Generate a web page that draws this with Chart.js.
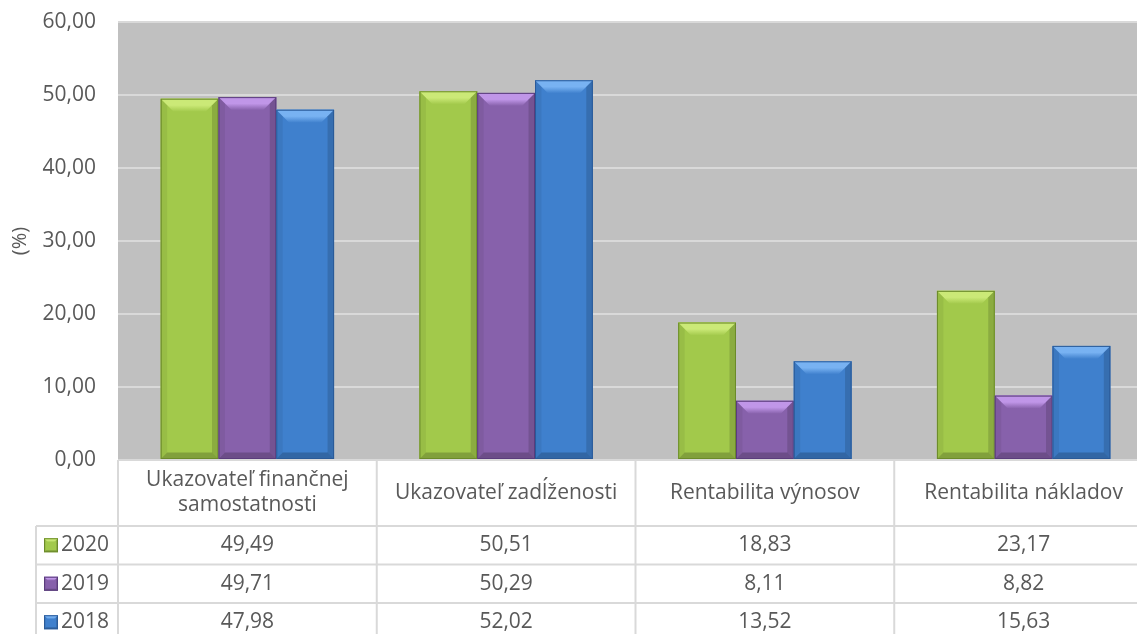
<!DOCTYPE html>
<html>
<head>
<meta charset="utf-8">
<script src="https://cdn.jsdelivr.net/npm/chart.js@4.4.1/dist/chart.umd.min.js"></script>
<style>
html, body { margin: 0; padding: 0; background: #fff; overflow: hidden; }
#wrap { width: 1137px; height: 634px; overflow: hidden; }
</style>
</head>
<body>
<div id="wrap"><canvas id="chart" width="1153" height="634"></canvas></div>
<script>
// data
const categories = [['Ukazovateľ finančnej', 'samostatnosti'], 'Ukazovateľ zadĺženosti', 'Rentabilita výnosov', 'Rentabilita nákladov'];
const years = ['2020', '2019', '2018'];
const values2020 = [49.49, 50.51, 18.83, 23.17];
const values2019 = [49.71, 50.29, 8.11, 8.82];
const values2018 = [47.98, 52.02, 13.52, 15.63];
const yMin = 0, yMax = 60, yStep = 10;

const FONT = '"Open Sans", sans-serif';
const TXT = '#595959';
const LINE = '#d9d9d9';

// body / light bevel / dark edge
const palette = [
    { body: '#a2c94b', light: '#cbe977', dark: '#6b8a2a' },
    { body: '#8761ab', light: '#c096e8', dark: '#5a3c7c' },
    { body: '#3f80cd', light: '#78b2f2', dark: '#2a5a98' }
];

const fmt = v => v.toFixed(2).replace('.', ',');

function drawBevel(ctx, l, t, r, b, col, bs) {
    bs = Math.min(bs, (b - t) / 2, (r - l) / 2);
    ctx.save();
    ctx.fillStyle = col.body;
    ctx.fillRect(l, t, r - l, b - t);
    // top bevel
    let g = ctx.createLinearGradient(0, t, 0, t + bs);
    g.addColorStop(0, col.light);
    g.addColorStop(0.5, col.light);
    g.addColorStop(1, col.body);
    ctx.fillStyle = g;
    ctx.beginPath();
    ctx.moveTo(l, t); ctx.lineTo(r, t); ctx.lineTo(r - bs, t + bs); ctx.lineTo(l + bs, t + bs);
    ctx.closePath(); ctx.fill();
    // right edge
    ctx.fillStyle = 'rgba(0,0,0,0.14)';
    ctx.beginPath();
    ctx.moveTo(r, t); ctx.lineTo(r, b); ctx.lineTo(r - bs / 2, b - bs / 2); ctx.lineTo(r - bs / 2, t + bs / 2);
    ctx.closePath(); ctx.fill();
    // left edge
    ctx.fillStyle = 'rgba(0,0,0,0.06)';
    ctx.beginPath();
    ctx.moveTo(l, t); ctx.lineTo(l, b); ctx.lineTo(l + bs / 2, b - bs / 2); ctx.lineTo(l + bs / 2, t + bs / 2);
    ctx.closePath(); ctx.fill();
    // bottom edge
    ctx.fillStyle = 'rgba(0,0,0,0.2)';
    ctx.beginPath();
    ctx.moveTo(l, b); ctx.lineTo(r, b); ctx.lineTo(r - bs / 2, b - bs / 2); ctx.lineTo(l + bs / 2, b - bs / 2);
    ctx.closePath(); ctx.fill();
    ctx.strokeStyle = col.dark;
    ctx.lineWidth = 1;
    ctx.strokeRect(l + 0.5, t + 0.5, r - l - 1, b - t - 1);
    ctx.restore();
}

// gray plot background
const plotBg = {
    id: 'plotBg',
    beforeDraw(chart) {
        const { ctx, chartArea: a } = chart;
        ctx.save();
        ctx.fillStyle = '#c0c0c0';
        ctx.fillRect(a.left, a.top, a.right - a.left, a.bottom - a.top);
        ctx.restore();
    }
};

// beveled bars drawn over the flat ones
const bevelBars = {
    id: 'bevelBars',
    afterDatasetsDraw(chart) {
        const ctx = chart.ctx;
        chart.data.datasets.forEach((ds, di) => {
            chart.getDatasetMeta(di).data.forEach(bar => {
                const p = bar.getProps(['x', 'y', 'base', 'width'], true);
                drawBevel(ctx, p.x - p.width / 2, p.y, p.x + p.width / 2, p.base, palette[di], 13);
            });
        });
    }
};

// data table under the plot
const dataTable = {
    id: 'dataTable',
    afterDraw(chart) {
        const { ctx, chartArea: a } = chart;
        const xs = chart.scales.x;
        const n = categories.length;
        const cw = (a.right - a.left) / n;
        const top = a.bottom;
        const headBottom = top + 66;
        const rowH = 38.5;
        const tableLeft = 36;
        ctx.save();
        ctx.strokeStyle = LINE;
        ctx.lineWidth = 2;
        ctx.beginPath();
        for (let i = 0; i <= n; i++) {
            const x = a.left + i * cw;
            ctx.moveTo(x, top); ctx.lineTo(x, chart.height);
        }
        for (let r = 0; r < years.length; r++) {
            const y = headBottom + r * rowH;
            ctx.moveTo(tableLeft, y); ctx.lineTo(a.right, y);
        }
        ctx.moveTo(tableLeft, headBottom); ctx.lineTo(tableLeft, chart.height);
        ctx.stroke();

        ctx.fillStyle = TXT;
        ctx.font = '21px ' + FONT;
        ctx.textAlign = 'center';
        ctx.textBaseline = 'middle';
        categories.forEach((c, i) => {
            const x = xs.getPixelForValue(i);
            const lines = Array.isArray(c) ? c : [c];
            const mid = (top + headBottom) / 2;
            lines.forEach((t, k) => {
                ctx.fillText(t, x, mid + (k - (lines.length - 1) / 2) * 25);
            });
        });
        chart.data.datasets.forEach((ds, di) => {
            const cy = headBottom + di * rowH + rowH / 2;
            ds.data.forEach((v, i) => {
                ctx.textAlign = 'center';
                ctx.fillText(fmt(v), xs.getPixelForValue(i), cy);
            });
            drawBevel(ctx, 44, cy - 7, 58, cy + 7, palette[di], 4);
            ctx.fillStyle = TXT;
            ctx.textAlign = 'left';
            ctx.fillText(ds.label, 61, cy);
        });
        ctx.restore();
    }
};

new Chart(document.getElementById('chart'), {
    type: 'bar',
    data: {
        labels: categories,
        datasets: [
            { label: years[0], data: values2020, backgroundColor: palette[0].body },
            { label: years[1], data: values2019, backgroundColor: palette[1].body },
            { label: years[2], data: values2018, backgroundColor: palette[2].body }
        ]
    },
    options: {
        responsive: false,
        animation: false,
        devicePixelRatio: 1,
        layout: { padding: { top: 22, bottom: 174, left: 0, right: 0 } },
        datasets: { bar: { categoryPercentage: 0.67, barPercentage: 1.0, borderWidth: 0 } },
        plugins: {
            legend: { display: false },
            tooltip: { enabled: false }
        },
        scales: {
            x: { display: false },
            y: {
                min: yMin,
                max: yMax,
                ticks: {
                    stepSize: yStep,
                    color: TXT,
                    font: { family: FONT, size: 21 },
                    padding: 0,
                    callback: v => fmt(v)
                },
                // invisible tick marks give the gap between labels and plot
                grid: { color: LINE, lineWidth: 2, drawTicks: true, tickLength: 22, tickColor: 'rgba(0,0,0,0)' },
                border: { display: false },
                title: {
                    display: true,
                    text: '(%)',
                    color: TXT,
                    font: { family: FONT, size: 20 },
                    padding: { top: 8, bottom: 0 }
                },
                afterFit(scale) { scale.width = 118; }
            }
        }
    },
    plugins: [plotBg, bevelBars, dataTable]
});
</script>
</body>
</html>
